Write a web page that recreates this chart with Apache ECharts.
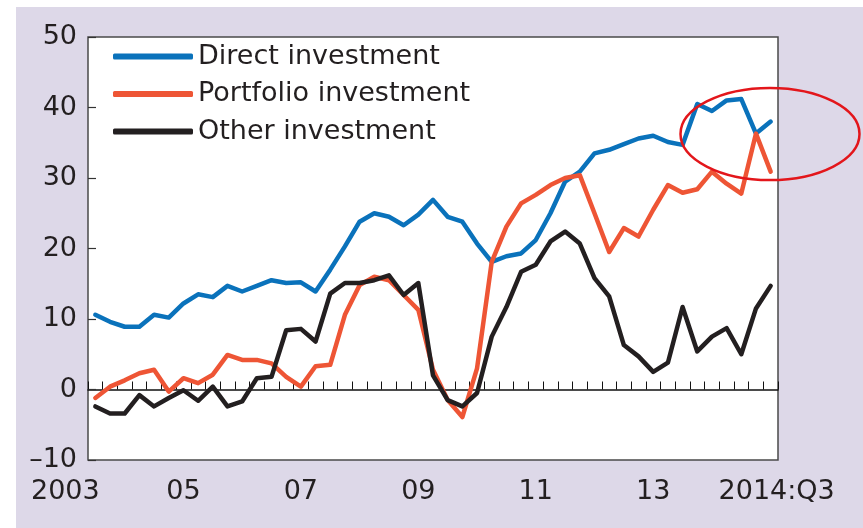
<!DOCTYPE html>
<html>
<head>
<meta charset="utf-8">
<script src="https://cdn.jsdelivr.net/npm/echarts@6/dist/echarts.min.js"></script>
<style>
  html, body { margin: 0; padding: 0; background: #fff; }
  #chart { position: absolute; left: 16px; top: 7px; width: 847px; height: 521px; }
</style>
</head>
<body>
<div id="chart"></div>
<script>
// quarters 2003:Q1 .. 2014:Q3
var quarters = [];
for (var y = 2003; y <= 2014; y++) {
  for (var q = 1; q <= 4; q++) {
    if (y == 2014 && q > 3) break;
    quarters.push(y + ':Q' + q);
  }
}

var directInv = [10.6, 9.6, 8.9, 8.9, 10.6, 10.2, 12.2, 13.5, 13.1, 14.7,
  13.9, 14.7, 15.5, 15.1, 15.2, 13.9, 17.0, 20.3, 23.8, 25.0,
  24.5, 23.3, 24.8, 26.9, 24.5, 23.8, 20.7, 18.1, 18.9, 19.3,
  21.2, 25.0, 29.5, 30.9, 33.5, 34.0, 34.8, 35.6, 36.0, 35.1,
  34.7, 40.5, 39.5, 41.0, 41.2, 36.3, 38.0];
var portfolioInv = [-1.2, 0.4, 1.3, 2.3, 2.8, -0.3, 1.6, 0.9, 2.1, 4.9,
  4.2, 4.2, 3.7, 1.8, 0.4, 3.3, 3.5, 10.6, 14.8, 16.0,
  15.5, 13.4, 11.3, 2.8, -1.5, -3.9, 3.0, 18.1, 23.1, 26.4,
  27.6, 29.0, 30.0, 30.4, 25.0, 19.5, 22.9, 21.7, 25.5, 29.0,
  27.9, 28.4, 30.9, 29.2, 27.8, 36.3, 30.9];
var otherInv = [-2.4, -3.4, -3.4, -0.8, -2.4, -1.2, -0.1, -1.6, 0.4, -2.4,
  -1.7, 1.6, 1.8, 8.4, 8.6, 6.8, 13.6, 15.1, 15.1, 15.5,
  16.2, 13.4, 15.1, 2.0, -1.5, -2.4, -0.5, 7.5, 11.7, 16.7,
  17.7, 21.0, 22.4, 20.7, 15.8, 13.2, 6.3, 4.7, 2.5, 3.8,
  11.7, 5.4, 7.5, 8.7, 5.0, 11.5, 14.7];

var seriesNames = ['Direct investment', 'Portfolio investment', 'Other investment'];
var seriesColors = ['#0a72bb', '#ee5535', '#231f20'];

// x tick labels and the quarter they sit under
var tickQuarters = ['2003:Q1', '2004:Q3', '2006:Q3', '2008:Q3', '2010:Q3', '2012:Q3', '2014:Q3'];
var tickLabels = ['2003', '05', '07', '09', '11', '13', '2014:Q3'];

var yMin = -10, yMax = 50, yStep = 10;

var font = 'DejaVu Sans';
var textColor = '#231f20';

var chart = echarts.init(document.getElementById('chart'));

var option = {
  backgroundColor: '#ddd8e8',
  animation: false,
  grid: {
    left: 72,
    right: 85,
    top: 30,
    bottom: 68,
    show: true,
    backgroundColor: '#fff',
    borderColor: '#4a4a4a',
    borderWidth: 1.5
  },
  legend: {
    orient: 'vertical',
    left: 92,
    top: 31,
    icon: 'roundRect',
    itemWidth: 80,
    itemHeight: 6,
    itemGap: 10.5,
    data: seriesNames,
    textStyle: {
      fontFamily: font,
      fontSize: 27,
      lineHeight: 27,
      color: textColor
    }
  },
  xAxis: [{
    type: 'category',
    data: quarters,
    boundaryGap: true,
    axisLine: { show: false, onZero: false },
    axisTick: { show: false },
    splitLine: { show: false },
    axisLabel: {
      interval: function(index, value) {
        return tickQuarters.indexOf(value) >= 0;
      },
      formatter: function(value) {
        var k = tickQuarters.indexOf(value);
        if (k == 0) return '{first|' + tickLabels[k] + '}';
        if (k == tickQuarters.length - 1) return '{last|' + tickLabels[k] + '}';
        return tickLabels[k];
      },
      margin: 18,
      fontFamily: font,
      fontSize: 27,
      color: textColor,
      rich: {
        first: { fontFamily: font, fontSize: 27, color: textColor, padding: [0, 60, 0, 0] },
        last: { fontFamily: font, fontSize: 27, color: textColor, padding: [0, 0, 0, 12] }
      }
    }
  }, {
    type: 'category',
    data: quarters,
    position: 'bottom',
    boundaryGap: true,
    axisLine: { show: true, onZero: true, lineStyle: { color: '#111', width: 1.5 } },
    axisTick: { show: true, inside: true, length: 8, interval: 0, lineStyle: { color: '#111', width: 1 } },
    axisLabel: { show: false },
    splitLine: { show: false }
  }],
  yAxis: {
    type: 'value',
    min: yMin,
    max: yMax,
    interval: yStep,
    axisLine: { show: false, onZero: false },
    axisTick: { show: true, inside: true, length: 8, lineStyle: { color: '#333', width: 1.2 } },
    splitLine: { show: false },
    axisLabel: {
      margin: 11,
      fontFamily: font,
      fontSize: 27,
      color: textColor,
      formatter: function(v) {
        return v < 0 ? '\u2013' + (-v) : '' + v;
      }
    }
  },
  series: [directInv, portfolioInv, otherInv].map(function(d, i) {
    return {
      name: seriesNames[i],
      type: 'line',
      data: d,
      xAxisIndex: 0,
      symbol: 'none',
      smooth: false,
      itemStyle: { color: seriesColors[i] },
      lineStyle: { color: seriesColors[i], width: 4.5, cap: 'round', join: 'round' },
      z: 3 + i
    };
  }),
  graphic: [{
    type: 'ellipse',
    shape: { cx: 754, cy: 127, rx: 89.5, ry: 46 },
    style: { fill: 'none', stroke: '#e3161b', lineWidth: 2.5 },
    z: 100
  }]
};

chart.setOption(option);
</script>
</body>
</html>
